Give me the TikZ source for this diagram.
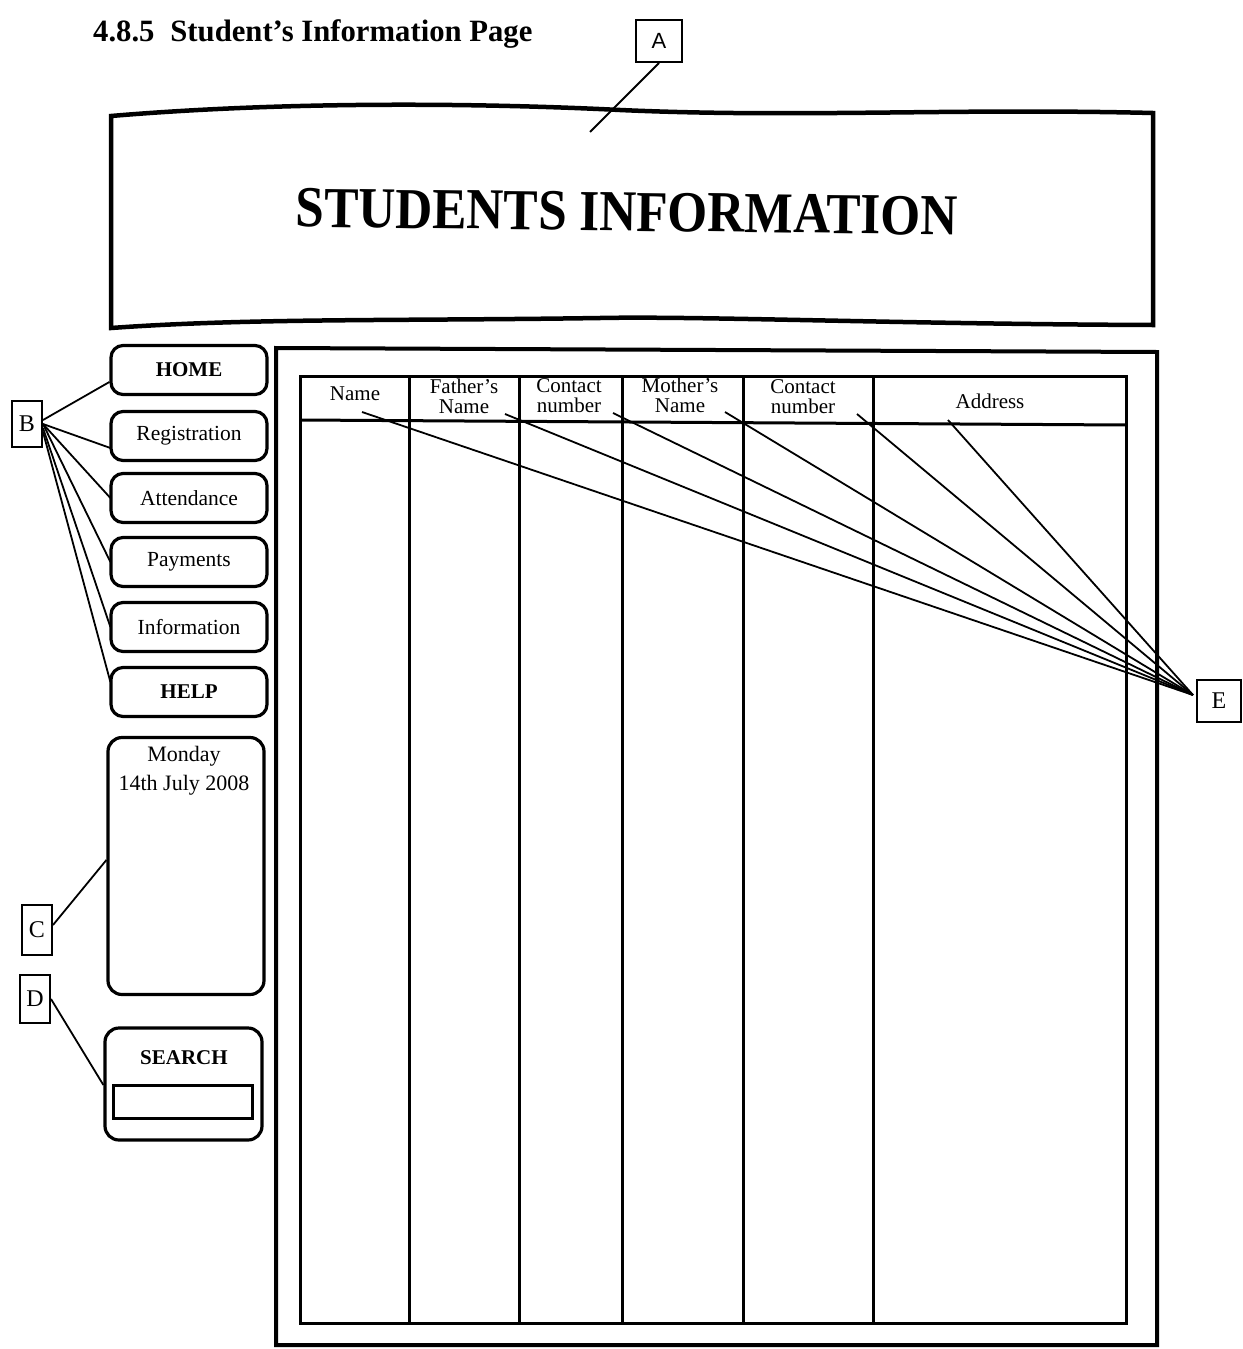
\documentclass[tikz,border=0pt]{standalone}
\usepackage{fontspec}
\setmainfont{Liberation Serif}
\newfontfamily\sansf{Liberation Sans}
\usetikzlibrary{calc}
\begin{document}
\begin{tikzpicture}[x=1pt,y=-1pt,
  btn/.style={draw,line width=3.2pt,rounded corners=12pt,minimum width=156pt,minimum height=49pt,inner sep=0pt,font=\fontsize{21.5}{22}\selectfont},
  lbl/.style={draw,line width=2pt,inner sep=0pt,fill=white,font=\fontsize{24}{24}\selectfont},
  conn/.style={line width=1.8pt},
  hdr/.style={font=\fontsize{21}{20}\selectfont,align=center,inner sep=0pt},
  tline/.style={line width=3pt},
  thick4/.style={line width=4.5pt}]
\useasboundingbox (0,0) rectangle (1242,1349);
\fill[white] (0,0) rectangle (1242,1349);

% title
\node[anchor=base west,inner sep=0pt,font=\bfseries\fontsize{31}{31}\selectfont] (title) at (93,41)
  {\scalebox{0.99}[1]{4.8.5\hspace{16pt}Student’s Information Page}};

% A label
\node[lbl,font=\sansf\fontsize{22}{22}\selectfont,minimum width=46pt,minimum height=42pt] (A) at (659,41) {A};
\coordinate (aend) at (590,132);
\draw[conn] (A.south) -- (aend);

% header banner
\draw[thick4] (111,116) .. controls (300,100) and (500,104) .. (620,110)
  .. controls (800,118) and (950,108) .. (1153,113) -- (1153,325)
  .. controls (900,324) and (700,316) .. (600,318)
  .. controls (400,321) and (250,318) .. (111,328) -- cycle;
\node[font=\bfseries\fontsize{58}{58}\selectfont,rotate=-0.7,inner sep=0pt] (heading) at (627,212)
  {\scalebox{0.885}[1]{STUDENTS INFORMATION}};

% main content frame
\draw[line width=4pt] (276,348) -- (1157,352) -- (1157,1345) -- (276,1345) -- cycle;

% table
\draw[tline] (300,376) rectangle (1126,1323);
\draw[tline] (300,420) -- (1126,425);
\foreach \cx in {409,519,622,743,873} {\draw[tline] (\cx,376) -- (\cx,1323);}

% header labels
\node[hdr] (hName) at (355,394) {Name};
\node[hdr] (hFather) at (464,396) {Father’s\\Name};
\node[hdr] (hContactA) at (569,396) {Contact\\number};
\node[hdr] (hMother) at (680,395) {Mother’s\\Name};
\node[hdr] (hContactB) at (803,397) {Contact\\number};
\node[hdr] (hAddress) at (990,401) {Address};

% E label and connectors
\node[lbl,minimum width=44pt,minimum height=42pt] (E) at (1219,701) {E};
\coordinate (econv) at ($(E.west)+(-3,-6)$);
\coordinate (sName) at (362,412);
\coordinate (sFather) at (505,414);
\coordinate (sContactA) at (613,413);
\coordinate (sMother) at (725,412);
\coordinate (sContactB) at (857,414);
\coordinate (sAddress) at (948,420);
\foreach \s in {sName,sFather,sContactA,sMother,sContactB,sAddress} {\draw[conn] (\s) -- (econv);}

% navigation buttons
\node[btn,font=\bfseries\fontsize{21}{22}\selectfont] (home) at (189,370) {HOME};
\node[btn] (reg) at (189,436) {Registration};
\node[btn] (att) at (189,498) {Attendance};
\node[btn] (pay) at (189,562) {Payments};
\node[btn] (info) at (189,627) {Information};
\node[btn,font=\bfseries\fontsize{21}{22}\selectfont] (help) at (189,692) {HELP};

% B label and connectors
\node[lbl,minimum width=30pt,minimum height=46pt] (B) at (27,424) {B};
\draw[conn] ($(B.east)+(0,-4)$) -- ($(home.west)+(0,12)$);
\draw[conn] (B.east) -- ($(reg.west)+(1,12)$);
\draw[conn] (B.east) -- ($(att.west)+(1,0)$);
\draw[conn] (B.east) -- ($(pay.west)+(1,0)$);
\draw[conn] ($(B.east)+(0,4)$) -- ($(info.west)+(1,0)$);
\draw[conn] ($(B.east)+(0,8)$) -- ($(help.west)+(1,-10)$);

% date box
\node[draw,line width=3.2pt,rounded corners=14pt,minimum width=156pt,minimum height=257pt,inner sep=0pt] (date) at (186,866) {};
\node[font=\fontsize{22}{29}\selectfont,align=center,anchor=north,inner sep=0pt] (datetext) at (184,746) {Monday\\14th July 2008};

% C label
\node[lbl,minimum width=30pt,minimum height=50pt] (C) at (37,930) {C};
\draw[conn] ($(C.east)+(0,-5)$) -- ($(date.west)+(0,-6)$);

% search box
\node[draw,line width=3.2pt,rounded corners=14pt,minimum width=157pt,minimum height=112pt,inner sep=0pt] (search) at (183.5,1084) {};
\node[font=\bfseries\fontsize{21}{22}\selectfont,inner sep=0pt] (searchlbl) at (184,1058) {SEARCH};
\node[draw,line width=3pt,minimum width=139pt,minimum height=33pt,inner sep=0pt] (field) at (182.5,1101.5) {};

% D label
\node[lbl,minimum width=30pt,minimum height=48pt] (D) at (35,999) {D};
\draw[conn] (D.east) -- ($(search.west)+(0,1)$);
\end{tikzpicture}
\end{document}
